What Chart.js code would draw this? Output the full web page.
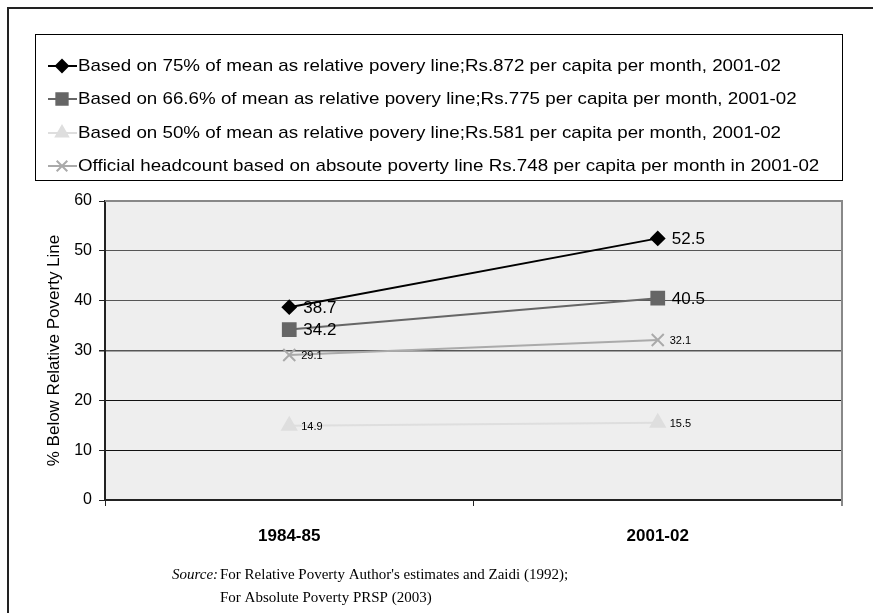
<!DOCTYPE html>
<html lang="en">
<head>
  <meta charset="UTF-8" />
  <title>Relative Poverty</title>
  <script src="https://cdn.jsdelivr.net/npm/chart.js"></script>
  <style>
    body { margin: 0; background: #fff; }
    .wrap { width: 873px; height: 613px; position: relative; }
  </style>
</head>
<body>
  <div class="wrap">
    <canvas id="povertyChart" width="873" height="613"></canvas>
  </div>

  <script>
    // Data
    const years = ['1984-85', '2001-02'];
    const seriesNames = [
      'Based on 75% of mean as relative povery line;Rs.872 per capita per month, 2001-02',
      'Based on 66.6% of mean as relative povery line;Rs.775 per capita per month, 2001-02',
      'Based on 50% of mean as relative povery line;Rs.581 per capita per month, 2001-02',
      'Official headcount based on absoute poverty line Rs.748 per capita per month in 2001-02'
    ];
    const mean75 = [38.7, 52.5];
    const mean666 = [34.2, 40.5];
    const mean50 = [14.9, 15.5];
    const official = [29.1, 32.1];
    const yTicks = [0, 10, 20, 30, 40, 50, 60];

    const FONT = '"Liberation Sans", Arial, sans-serif';
    const SERIF = '"Liberation Serif", "Times New Roman", serif';

    // styles per series (line colour, marker, label size)
    const styles = [
      { color: '#000000', point: 'rectRot', radius: 6.5, legendRadius: 6, labelSize: 17 },
      { color: '#666666', point: 'rect', radius: 9, legendRadius: 8, labelSize: 17 },
      { color: '#dedede', point: 'triangle', radius: 8, legendRadius: 7, labelSize: 11 },
      { color: '#aaaaaa', point: 'crossRot', radius: 8.5, legendRadius: 7.5, labelSize: 11 }
    ];

    // background, borders, legend box and source note
    const decorPlugin = {
      id: 'decor',
      beforeDraw(chart) {
        const { ctx, chartArea: a } = chart;
        ctx.save();
        ctx.fillStyle = '#fff';
        ctx.fillRect(0, 0, chart.width, chart.height);
        ctx.fillStyle = '#eeeeee';
        ctx.fillRect(a.left, a.top, a.right - a.left, a.bottom - a.top);
        // outer frame (top + left only)
        ctx.strokeStyle = '#222';
        ctx.lineWidth = 2;
        ctx.beginPath();
        ctx.moveTo(8, 613);
        ctx.lineTo(8, 8);
        ctx.lineTo(873, 8);
        ctx.stroke();
        ctx.restore();
      },
      afterDraw(chart) {
        const { ctx, chartArea: a } = chart;
        ctx.save();
        // plot frame top and right
        ctx.strokeStyle = '#888';
        ctx.lineWidth = 2;
        ctx.beginPath();
        ctx.moveTo(a.left, a.top);
        ctx.lineTo(a.right, a.top);
        ctx.lineTo(a.right, a.bottom + 6);
        ctx.stroke();

        // legend box
        ctx.strokeStyle = '#000';
        ctx.lineWidth = 1;
        ctx.strokeRect(35.5, 34.5, 807, 146);
        const rowY = [66, 99, 133, 166];
        ctx.font = '17px ' + FONT;
        const sx = 703 / ctx.measureText(seriesNames[0]).width;
        chart.data.datasets.forEach((ds, i) => {
          const st = styles[i];
          const y = rowY[i];
          ctx.strokeStyle = st.color;
          ctx.fillStyle = st.color;
          ctx.lineWidth = 2;
          ctx.beginPath();
          ctx.moveTo(48, y);
          ctx.lineTo(77, y);
          ctx.stroke();
          Chart.helpers.drawPoint(ctx, {
            pointStyle: st.point, radius: st.legendRadius, rotation: 0, borderWidth: 2
          }, 62, y);
          ctx.fillStyle = '#000';
          ctx.textBaseline = 'middle';
          ctx.textAlign = 'left';
          ctx.save();
          ctx.translate(78, y);
          ctx.scale(sx, 1);
          ctx.fillText(ds.label, 0, 0);
          ctx.restore();
        });

        // y axis title
        ctx.save();
        ctx.translate(54, (a.top + a.bottom) / 2);
        ctx.rotate(-Math.PI / 2);
        ctx.font = '17px ' + FONT;
        ctx.fillStyle = '#000';
        ctx.textAlign = 'center';
        ctx.textBaseline = 'middle';
        ctx.fillText('% Below Relative Poverty Line', 0, 0);
        ctx.restore();

        // source note
        ctx.fillStyle = '#000';
        ctx.textBaseline = 'middle';
        ctx.textAlign = 'left';
        ctx.font = 'italic 15px ' + SERIF;
        ctx.fillText('Source:', 172, 575);
        ctx.font = '15px ' + SERIF;
        ctx.fillText("For Relative Poverty Author's estimates and Zaidi (1992);", 220, 575);
        ctx.fillText('For Absolute Poverty PRSP (2003)', 220, 598);
        ctx.restore();
      },
      afterDatasetsDraw(chart) {
        // value labels to the right of each marker
        const { ctx } = chart;
        ctx.save();
        ctx.fillStyle = '#000';
        ctx.textAlign = 'left';
        ctx.textBaseline = 'middle';
        chart.data.datasets.forEach((ds, i) => {
          const st = styles[i];
          ctx.font = st.labelSize + 'px ' + FONT;
          chart.getDatasetMeta(i).data.forEach((pt, j) => {
            const off = st.labelSize > 12 ? 14 : 12;
            ctx.fillText(ds.data[j].toFixed(1), pt.x + off, pt.y + 1);
          });
        });
        ctx.restore();
      }
    };

    function makeDataset(label, values, st) {
      return {
        label: label,
        data: values,
        borderColor: st.color,
        backgroundColor: st.color,
        pointBorderColor: st.color,
        pointBackgroundColor: st.color,
        borderWidth: 2,
        pointStyle: st.point,
        pointRadius: st.radius,
        pointHoverRadius: st.radius,
        pointBorderWidth: 2,
        tension: 0,
        fill: false
      };
    }

    new Chart(document.getElementById('povertyChart'), {
      type: 'line',
      data: {
        labels: years,
        datasets: [
          makeDataset(seriesNames[0], mean75, styles[0]),
          makeDataset(seriesNames[1], mean666, styles[1]),
          makeDataset(seriesNames[2], mean50, styles[2]),
          makeDataset(seriesNames[3], official, styles[3])
        ]
      },
      options: {
        responsive: false,
        animation: false,
        events: [],
        layout: { padding: { left: 0, top: 201, right: 31, bottom: 0 } },
        scales: {
          x: {
            offset: true,
            afterFit: (s) => { s.height = 113; },
            grid: { offset: true, drawOnChartArea: false, drawTicks: true, tickLength: 6, color: '#222', lineWidth: 1 },
            border: { color: '#222', width: 2 },
            ticks: { color: '#000', padding: 20, font: { family: FONT, size: 17, weight: 'bold' } }
          },
          y: {
            min: 0,
            max: 60,
            afterFit: (s) => { s.width = 105; },
            afterBuildTicks: (s) => { s.ticks = yTicks.map(v => ({ value: v })); },
            grid: {
              color: (c) => (c.tick.value === 10 || c.tick.value === 20) ? '#111' : '#555',
              tickColor: '#222',
              tickLength: 6,
              lineWidth: (c) => c.tick.value === 30 ? 1.5 : 1
            },
            border: { color: '#222', width: 2 },
            ticks: { color: '#000', padding: 7, font: { family: FONT, size: 16 } }
          }
        },
        plugins: {
          legend: { display: false },
          tooltip: { enabled: false }
        }
      },
      plugins: [decorPlugin]
    });
  </script>
</body>
</html>
